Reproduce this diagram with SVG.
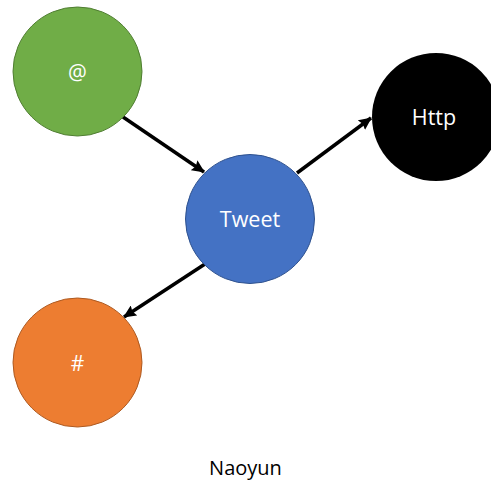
<svg xmlns="http://www.w3.org/2000/svg" width="491" height="481" viewBox="0 0 491 481">
<style>
.lbl{font-family:"Open Sans","Liberation Sans",sans-serif;fill:#fff;text-anchor:middle}
.edge{stroke:#000;stroke-width:3.5;fill:none;marker-end:url(#ah)}
</style>
<defs>
<marker id="ah" markerUnits="userSpaceOnUse" markerWidth="14" markerHeight="12" refX="12" refY="6" orient="auto">
<path d="M0,0 L13,6 L0,12 L2,6 Z" fill="#000"/>
</marker>
</defs>
<rect width="491" height="481" fill="#fff"/>
<g id="connectors">
<line class="edge" x1="123" y1="117" x2="204" y2="172"/>
<line class="edge" x1="297" y1="173" x2="371" y2="118"/>
<line class="edge" x1="205" y1="264" x2="124" y2="317"/>
</g>
<g id="at">
<circle cx="77.5" cy="71.5" r="64.5" fill="#70AD47" stroke="#507E32" stroke-width="1"/>
<text class="lbl" x="77.5" y="80" font-size="21">@</text>
</g>
<g id="tweet">
<circle cx="250" cy="219" r="64.5" fill="#4472C4" stroke="#2F528F" stroke-width="1"/>
<text class="lbl" x="250" y="226.5" font-size="21.5">Tweet</text>
</g>
<g id="http">
<circle cx="436" cy="117" r="64" fill="#000"/>
<text class="lbl" x="434" y="125" font-size="21.5">Http</text>
</g>
<g id="hash">
<circle cx="77.5" cy="362.5" r="64.5" fill="#ED7D31" stroke="#AE5A21" stroke-width="1"/>
<text class="lbl" x="77.5" y="371" font-size="21">#</text>
</g>
<text x="245.5" y="475" font-size="20" font-family="'Open Sans','Liberation Sans',sans-serif" fill="#000" text-anchor="middle">Naoyun</text>
</svg>
